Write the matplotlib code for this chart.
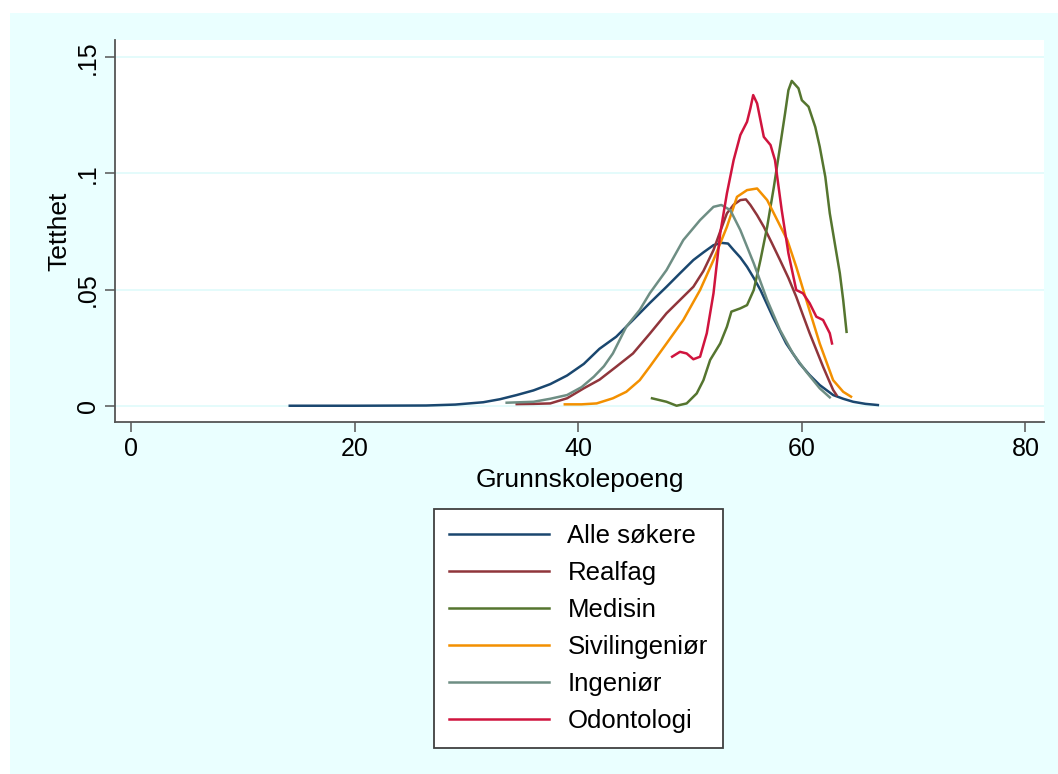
import matplotlib.pyplot as plt
from matplotlib.patches import Rectangle

plt.rcParams['font.family'] = ['Liberation Sans', 'DejaVu Sans']

# kernel density estimates, read per group (grunnskolepoeng, tetthet)
labels = ['Alle søkere', 'Realfag', 'Medisin', 'Sivilingeniør', 'Ingeniør', 'Odontologi']
colors = ['#1a476f', '#90353b', '#55752f', '#f39000', '#6e8e84', '#d0143e']

alle_x = [14.2, 20, 26.4, 29, 31.5, 33, 34.5, 36, 37.5, 39, 40.5, 41.9, 43.4, 44.9, 46.4,
          47.9, 49.1, 50.3, 51.2, 52.1, 52.8, 53.4, 53.9, 54.5, 55.1, 55.7, 56.3, 57.4,
          58.6, 59.8, 60.7, 61.6, 62.8, 63.7, 64.6, 65.7, 66.8]
alle_y = [0, 0, 0.0001, 0.0005, 0.0015, 0.0028, 0.0046, 0.0066, 0.0093, 0.013, 0.018,
          0.0245, 0.0297, 0.0369, 0.0442, 0.0512, 0.057, 0.0627, 0.066, 0.0691, 0.0701,
          0.0698, 0.067, 0.0638, 0.0598, 0.055, 0.0498, 0.0383, 0.0268, 0.0182, 0.0132,
          0.0089, 0.0046, 0.003, 0.0017, 0.0008, 0.0003]

real_x = [34.5, 36, 37.5, 39, 40.5, 41.9, 43.4, 44.9, 46.4, 47.9, 49.1, 50.3, 51.2, 52.1,
          52.7, 53.3, 53.9, 54.5, 55.0, 55.4, 56.0, 56.6, 57.3, 58.05, 58.8, 59.5, 60.1,
          60.7, 61.3, 61.9, 62.4, 62.8, 63.1]
real_y = [0.0007, 0.0008, 0.001, 0.0032, 0.0075, 0.0112, 0.0168, 0.0225, 0.031, 0.0398,
          0.0455, 0.0512, 0.058, 0.067, 0.075, 0.0828, 0.0865, 0.0885, 0.0888, 0.0864,
          0.082, 0.077, 0.0702, 0.0627, 0.055, 0.0469, 0.039, 0.0312, 0.024, 0.0168,
          0.0112, 0.0068, 0.0046]

med_x = [46.6, 47.9, 48.8, 49.7, 50.6, 51.2, 51.8, 52.7, 53.3, 53.7, 54.5, 55.1, 55.7,
         56.3, 56.9, 57.5, 58.05, 58.5, 58.8, 59.1, 59.7, 60.0, 60.6, 61.2, 61.6, 62.1,
         62.5, 63.0, 63.4, 63.7, 64.0]
med_y = [0.0032, 0.0017, 0.0, 0.001, 0.0053, 0.011, 0.0197, 0.0268, 0.034, 0.0405, 0.0419,
         0.0433, 0.0498, 0.0627, 0.077, 0.0942, 0.1115, 0.1258, 0.1358, 0.1398, 0.1366,
         0.1315, 0.1287, 0.12, 0.1115, 0.0985, 0.0828, 0.0684, 0.057, 0.0455, 0.0318]

siv_x = [38.8, 40.3, 41.65, 43.1, 44.3, 45.5, 46.4, 47.9, 49.4, 50.9, 52.1, 53.3, 54.2,
         55.1, 56.0, 56.9, 57.8, 58.7, 59.5, 60.4, 61.6, 62.8, 63.7, 64.4]
siv_y = [0.0006, 0.0006, 0.001, 0.0032, 0.006, 0.011, 0.0168, 0.0268, 0.0369, 0.0498,
         0.0627, 0.077, 0.0899, 0.0928, 0.0935, 0.0885, 0.0799, 0.0713, 0.0598, 0.0455,
         0.0268, 0.011, 0.006, 0.0039]

ing_x = [33.6, 36, 37.5, 39, 40.3, 41.4, 42.3, 43.1, 44.3, 45.5, 46.4, 47.9, 49.4, 50.9,
         52.1, 52.8, 53.6, 54.5, 55.7, 56.9, 58.05, 59.2, 60.4, 61.6, 62.5]
ing_y = [0.0013, 0.0017, 0.003, 0.0046, 0.008, 0.0125, 0.017, 0.0225, 0.034, 0.0412,
         0.0484, 0.0584, 0.0713, 0.0799, 0.0856, 0.0864, 0.0842, 0.0756, 0.0613, 0.0455,
         0.0326, 0.0225, 0.0146, 0.0075, 0.0036]

odo_x = [48.4, 49.1, 49.7, 50.3, 50.9, 51.5, 52.1, 52.7, 53.3, 53.9, 54.5, 55.1, 55.4,
         55.65, 56.0, 56.6, 57.2, 57.6, 58.2, 58.8, 59.5, 60.1, 60.7, 61.3, 61.9, 62.5, 62.7]
odo_y = [0.0211, 0.0232, 0.0225, 0.02, 0.0211, 0.0312, 0.0484, 0.0742, 0.0914, 0.1057,
         0.1165, 0.1222, 0.128, 0.1337, 0.1301, 0.1157, 0.1122, 0.1057, 0.0842, 0.0656,
         0.0498, 0.0484, 0.0441, 0.0383, 0.0369, 0.0312, 0.0268]

series = [(alle_x, alle_y), (real_x, real_y), (med_x, med_y),
          (siv_x, siv_y), (ing_x, ing_y), (odo_x, odo_y)]

xticks = [0, 20, 40, 60, 80]
yticks = [0, 0.05, 0.1, 0.15]
ytick_labels = ['0', '.05', '.1', '.15']

bg = '#eaffff'
axis_col = '#555555'

fig = plt.figure(figsize=(10.58, 7.74), dpi=100)
fig.patch.set_facecolor('white')
# light graph region behind the plot region
fig.patches.append(Rectangle((10 / 1058, 0), 1 - 10 / 1058, 1 - 13 / 774,
                             transform=fig.transFigure, facecolor=bg,
                             edgecolor='none', zorder=-5))

ax = fig.add_axes([115 / 1058, 1 - 422 / 774, (1044 - 115) / 1058, (422 - 40) / 774])
ax.set_facecolor('white')

for (xs, ys), lab, c in zip(series, labels, colors):
    ax.plot(xs, ys, color=c, lw=1.8, label=lab, solid_joinstyle='round', zorder=3)

ax.set_xlim(-1.43, 81.66)
ax.set_ylim(-0.0070, 0.1574)
ax.set_xticks(xticks)
ax.set_yticks(yticks)
ax.set_yticklabels(ytick_labels, rotation=90, va='center')
ax.yaxis.grid(True, color='#e2fbfb', lw=1.3, zorder=1)
ax.set_axisbelow(True)

for side in ['top', 'right']:
    ax.spines[side].set_visible(False)
for side in ['left', 'bottom']:
    ax.spines[side].set_color(axis_col)
    ax.spines[side].set_linewidth(1.3)

ax.tick_params(axis='both', length=7.5, width=1.1, color=axis_col,
               labelsize=18, pad=3.5)
ax.set_xlabel('Grunnskolepoeng', fontsize=19, labelpad=5)
ax.set_ylabel('Tetthet', fontsize=19, labelpad=3)

leg = ax.legend(loc='upper center', bbox_to_anchor=(578.5 / 1058, 1 - 509 / 774),
                bbox_transform=fig.transFigure, fontsize=18.5, frameon=True,
                fancybox=False, handlelength=3.9, handletextpad=0.7,
                labelspacing=0.5, borderpad=0.6, borderaxespad=0)
leg.get_frame().set_edgecolor('#404040')
leg.get_frame().set_linewidth(1.3)
leg.get_frame().set_facecolor('white')
leg.get_frame().set_alpha(1)
for line in leg.get_lines():
    line.set_linewidth(1.8)

fig.savefig('out.png', dpi=100)
